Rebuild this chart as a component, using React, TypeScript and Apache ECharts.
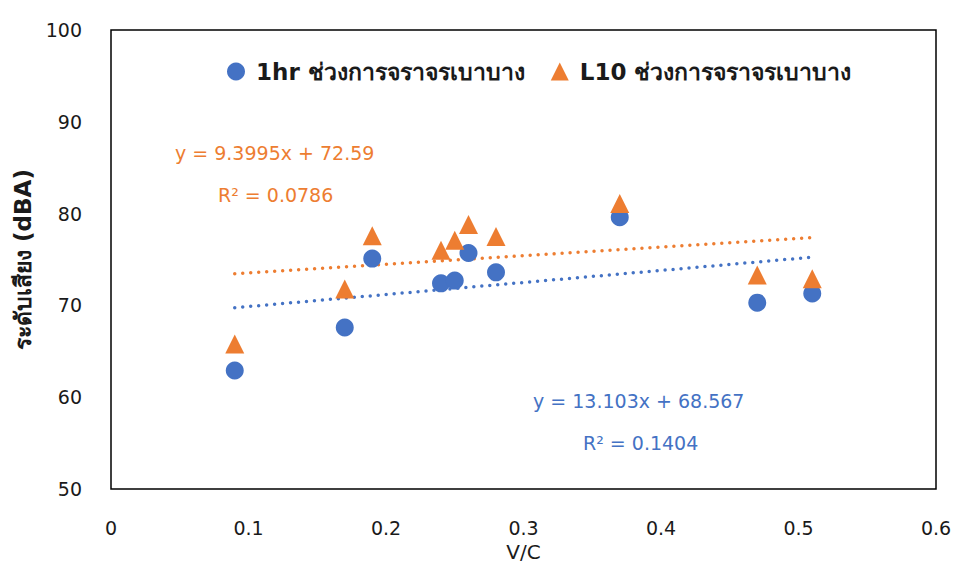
import React, { useEffect, useRef } from "react";
import * as echarts from "echarts";

const vc = [0.09, 0.17, 0.19, 0.24, 0.25, 0.26, 0.28, 0.37, 0.47, 0.51];
const hr1 = [62.9, 67.6, 75.1, 72.4, 72.7, 75.7, 73.6, 79.6, 70.3, 71.3];
const l10 = [65.8, 71.8, 77.6, 76.0, 77.1, 78.8, 77.5, 81.1, 73.3, 72.9];
const seriesNames = ["1hr ช่วงการจราจรเบาบาง", "L10 ช่วงการจราจรเบาบาง"];
// trendline coefficients as printed on the chart
const hrSlope = 13.103, hrIntercept = 68.567;
const l10Slope = 9.3995, l10Intercept = 72.59;
const trendRange = [0.09, 0.51];
const eqTexts = ["y = 9.3995x + 72.59", "R² = 0.0786", "y = 13.103x + 68.567", "R² = 0.1404"];

const BLUE = "#4472C4";
const ORANGE = "#ED7D31";
const FONT = "'DejaVu Sans', 'Noto Sans', sans-serif";

export default function App() {
  const ref = useRef<HTMLDivElement>(null);
  useEffect(() => {
    const chart = echarts.init(ref.current!, null, { renderer: "svg" });
    const line = (s: number, b: number) => trendRange.map((x) => [x, s * x + b]);
    chart.setOption({
      animation: false,
      backgroundColor: "#fff",
      textStyle: { fontFamily: FONT },
      legend: {
        data: [
          { name: seriesNames[0], icon: "circle" },
          { name: seriesNames[1], icon: "triangle" },
        ],
        left: 222,
        top: 55,
        itemWidth: 18,
        itemHeight: 18,
        itemGap: 26,
        textStyle: { fontSize: 23, fontWeight: "bold", color: "#1a1a1a", fontFamily: FONT, padding: [0, 0, 0, 6] },
      },
      grid: {
        left: 111, right: 17, top: 30, bottom: 74,
        outerBoundsMode: "none",
        containLabel: false,
        show: true, borderColor: "#000", borderWidth: 1.5, backgroundColor: "transparent",
      },
      xAxis: {
        type: "value",
        min: 0,
        max: 0.6,
        interval: 0.1,
        name: "V/C",
        nameLocation: "middle",
        nameGap: 46,
        nameTextStyle: { fontSize: 20, color: "#1a1a1a" },
        axisLine: { show: false },
        axisTick: { show: false },
        splitLine: { show: false },
        axisLabel: { fontSize: 19, color: "#1a1a1a", margin: 29 },
      },
      yAxis: {
        type: "value",
        min: 50,
        max: 100,
        interval: 10,
        name: "ระดับเสียง (dBA)",
        nameLocation: "middle",
        nameGap: 74,
        nameTextStyle: { fontSize: 23, fontWeight: "bold", color: "#1a1a1a" },
        axisLine: { show: false },
        axisTick: { show: false },
        splitLine: { show: false },
        axisLabel: { fontSize: 19, color: "#1a1a1a", margin: 29, padding: [0, 0, 6, 0] },
      },
      series: [
        {
          name: seriesNames[1] + " trend",
          type: "line",
          data: line(l10Slope, l10Intercept),
          symbol: "none",
          lineStyle: { color: ORANGE, width: 3.5, type: [0, 8], cap: "round" },
          z: 1,
        },
        {
          name: seriesNames[0] + " trend",
          type: "line",
          data: line(hrSlope, hrIntercept),
          symbol: "none",
          lineStyle: { color: BLUE, width: 3.5, type: [0, 8], cap: "round" },
          z: 1,
        },
        {
          name: seriesNames[0],
          type: "scatter",
          data: vc.map((x, i) => [x, hr1[i]]),
          symbol: "circle",
          symbolSize: 18,
          itemStyle: { color: BLUE, opacity: 1 },
          z: 2,
        },
        {
          name: seriesNames[1],
          type: "scatter",
          data: vc.map((x, i) => [x, l10[i]]),
          symbol: "triangle",
          symbolSize: 19,
          itemStyle: { color: ORANGE, opacity: 1 },
          z: 3,
        },
      ],
      graphic: [
        { type: "text", left: 175, top: 143, style: { text: eqTexts[0], fontSize: 19, fill: ORANGE, fontFamily: FONT } },
        { type: "text", left: 218, top: 185, style: { text: eqTexts[1], fontSize: 19, fill: ORANGE, fontFamily: FONT } },
        { type: "text", left: 533, top: 391, style: { text: eqTexts[2], fontSize: 19, fill: BLUE, fontFamily: FONT } },
        { type: "text", left: 583, top: 433, style: { text: eqTexts[3], fontSize: 19, fill: BLUE, fontFamily: FONT } },
      ],
    });
    return () => chart.dispose();
  }, []);
  return <div ref={ref} style={{ width: 953, height: 563, position: "absolute", left: 0, top: 0 }} />;
}
